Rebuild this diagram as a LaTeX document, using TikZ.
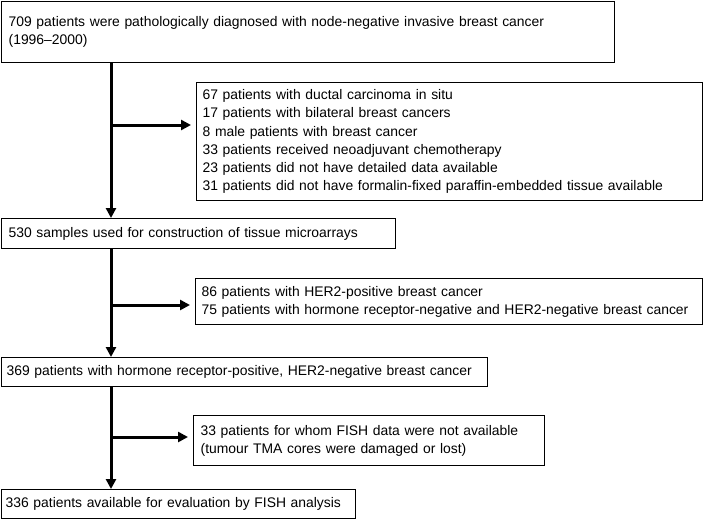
\documentclass[tikz,border=0pt]{standalone}
\usepackage{fontspec}
\setmainfont{Liberation Sans}
\usetikzlibrary{arrows.meta, positioning}

\begin{document}
\begin{tikzpicture}[
  x=1pt, y=-1pt,
  stagebox/.style={draw, line width=1.3pt, anchor=north west, align=left,
               inner xsep=6pt, inner ysep=0pt,
               font=\fontsize{13.9}{18.3}\selectfont},
  flow/.style={line width=3pt, -{Triangle[length=10pt, width=10pt]}},
  every node/.style={font=\fontsize{13.9}{18.3}\selectfont}
]
  \useasboundingbox (0,0) rectangle (714,520);
  % main boxes
  \node[stagebox, inner xsep=7pt, text width=599pt, minimum height=61pt] (diag) at (1,1)
    {709 patients were pathologically diagnosed with node-negative invasive breast cancer\\(1996--2000)};
  \node[stagebox, inner xsep=7pt, text width=380pt, minimum height=30pt] (tma) at (1,218)
    {530 samples used for construction of tissue microarrays};
  \node[stagebox, inner xsep=5pt, text width=476pt, minimum height=29pt] (hrpos) at (1,357)
    {369 patients with hormone receptor-positive, HER2-negative breast cancer};
  \node[stagebox, inner xsep=4pt, text width=346pt, minimum height=29pt] (fish) at (1,489)
    {336 patients available for evaluation by FISH analysis};
  % exclusion boxes
  \node[stagebox, text width=494pt, minimum height=118pt] (excl1) at (196,82)
    {67 patients with ductal carcinoma in situ\\
     17 patients with bilateral breast cancers\\
     8 male patients with breast cancer\\
     33 patients received neoadjuvant chemotherapy\\
     23 patients did not have detailed data available\\
     31 patients did not have formalin-fixed paraffin-embedded tissue available};
  \node[stagebox, text width=495pt, minimum height=46pt] (excl2) at (195,278)
    {86 patients with HER2-positive breast cancer\\
     75 patients with hormone receptor-negative and HER2-negative breast cancer};
  \node[stagebox, inner xsep=7pt, text width=337pt, minimum height=50pt] (excl3) at (193,415)
    {33 patients for whom FISH data were not available\\
     (tumour TMA cores were damaged or lost)};

  \coordinate (spine) at (111,0);
  \coordinate (b1) at (111,125);
  \coordinate (b2) at (111,305);
  \coordinate (b3) at (111,437);

  \draw[flow] (diag.south -| spine) -- (tma.north -| spine);
  \draw[flow] (tma.south -| spine)  -- (hrpos.north -| spine);
  \draw[flow] (hrpos.south -| spine) -- (fish.north -| spine);
  \draw[flow, shorten >=5pt] (b1) -- (b1 -| excl1.west);
  \draw[flow, shorten >=5pt] (b2) -- (b2 -| excl2.west);
  \draw[flow, shorten >=5pt] (b3) -- (b3 -| excl3.west);
\end{tikzpicture}
\end{document}
